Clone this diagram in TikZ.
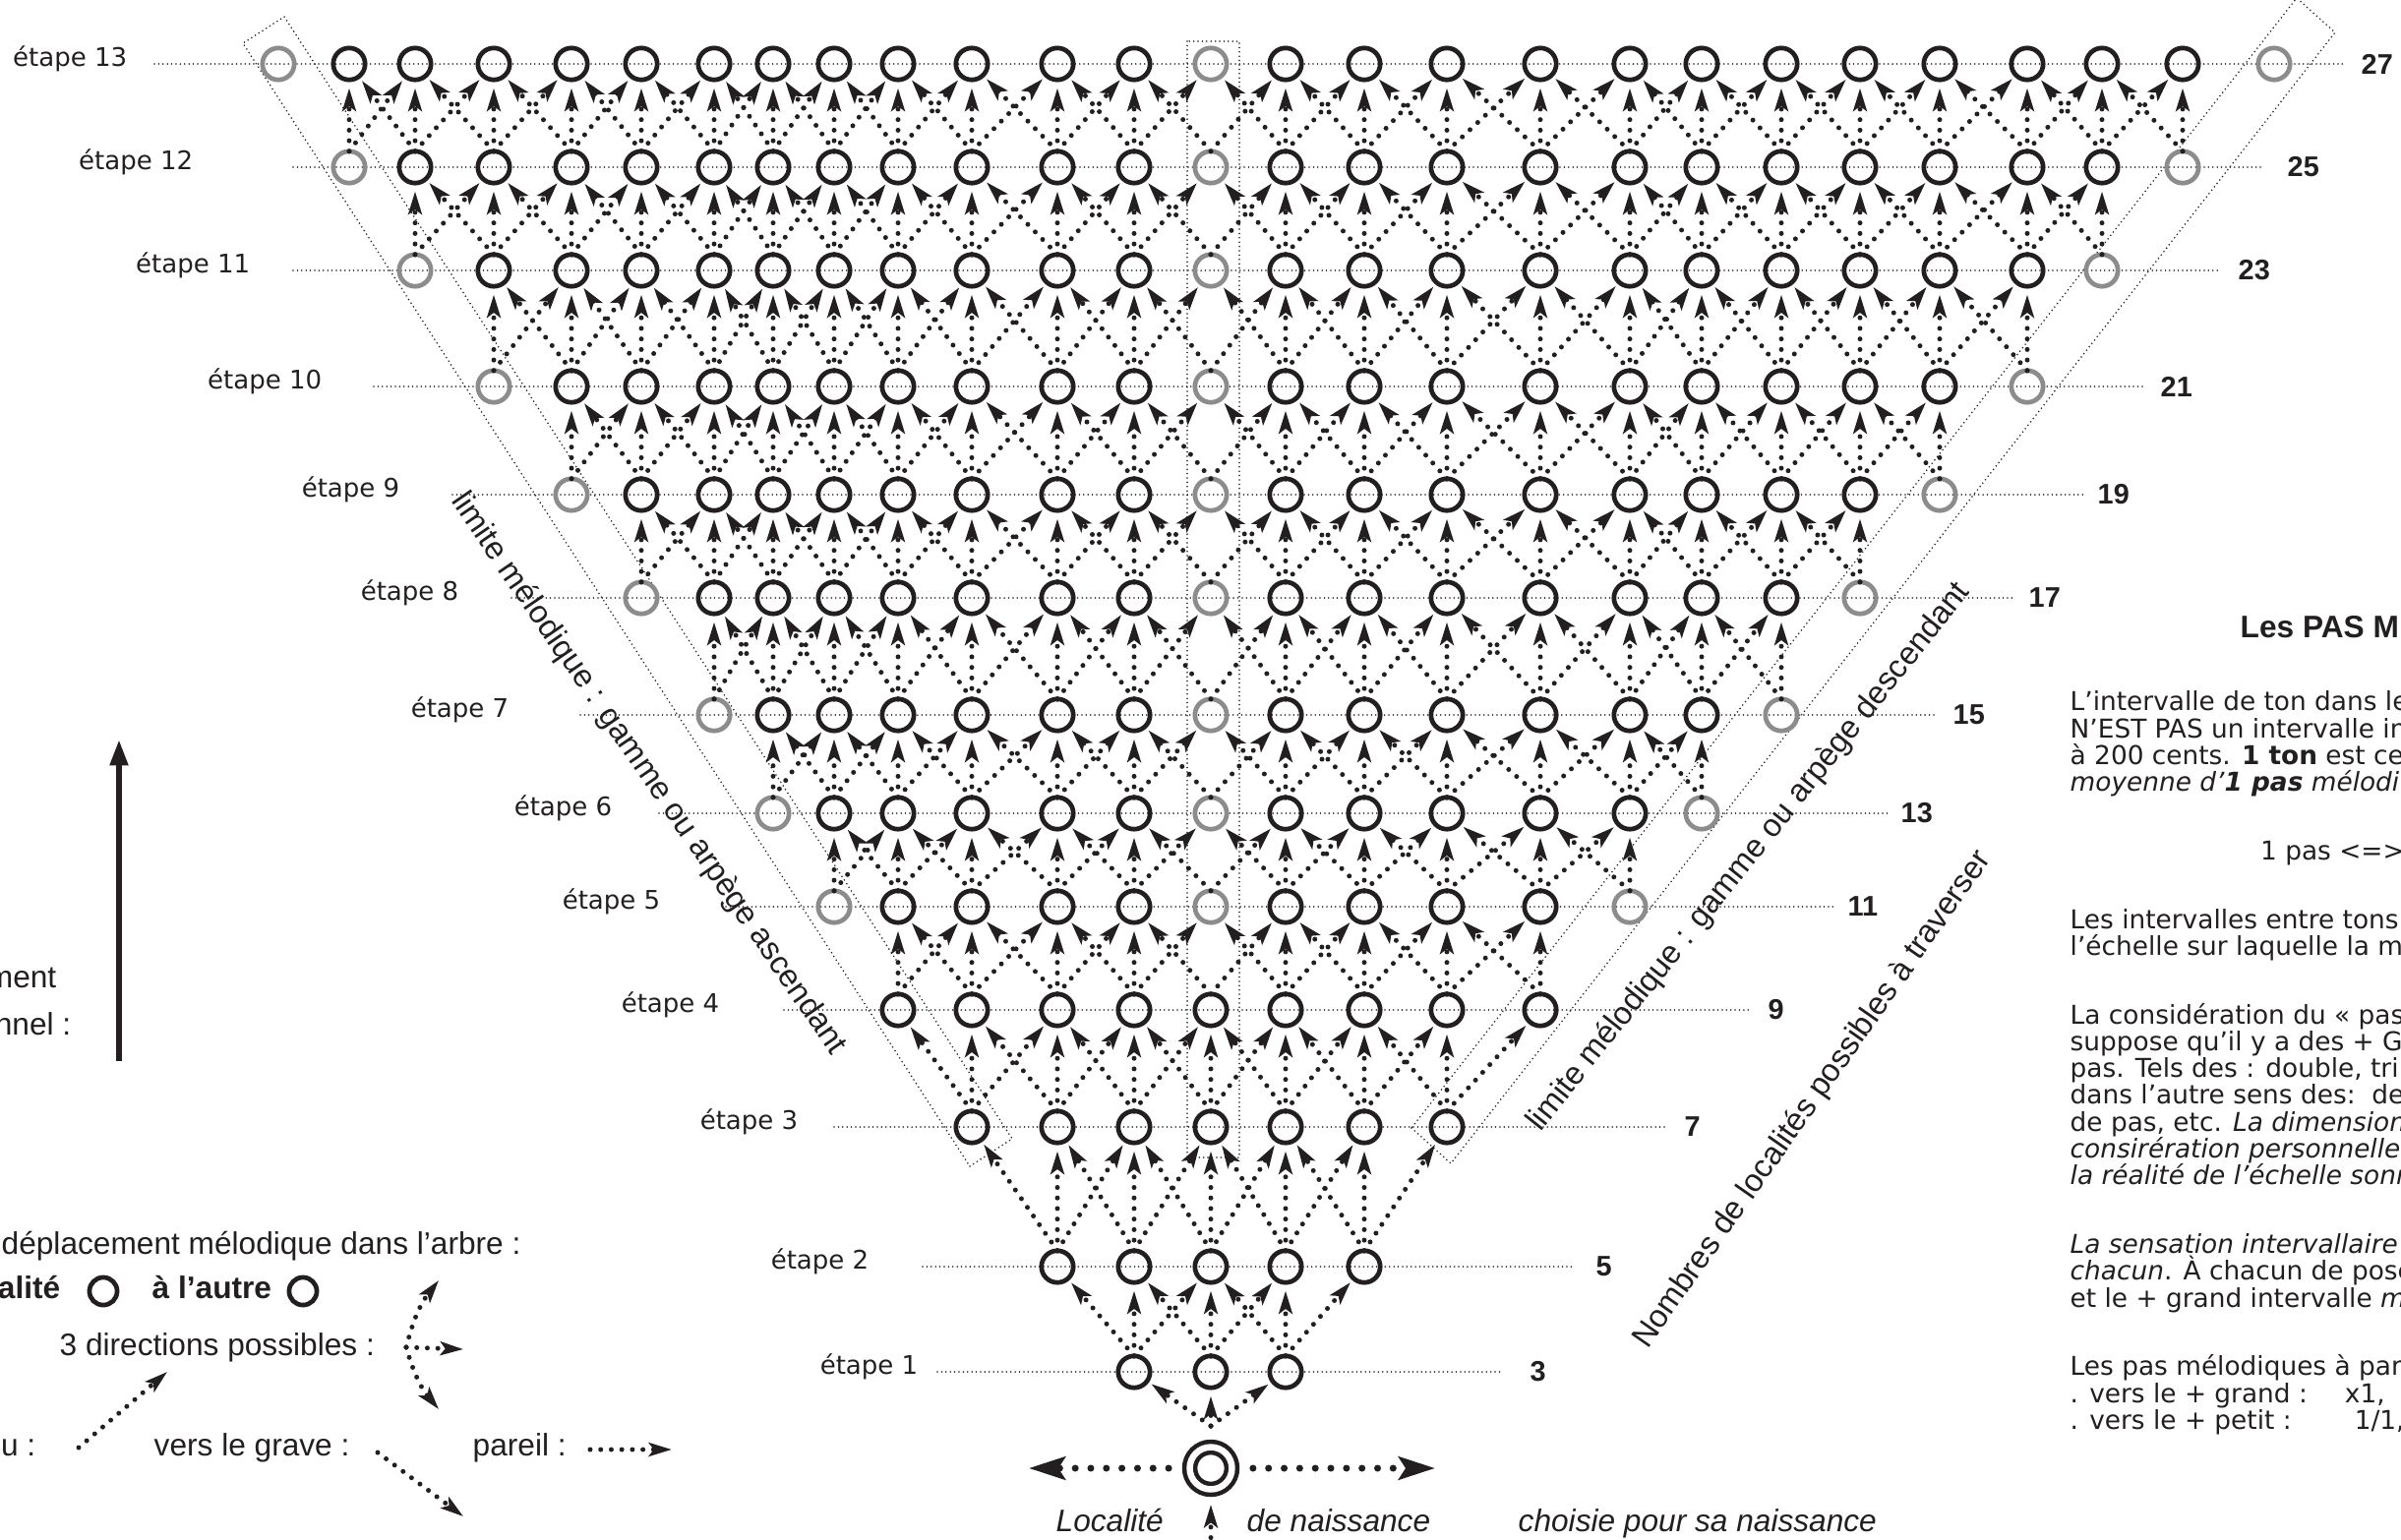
\documentclass[tikz,border=0pt]{standalone}
\usepackage{fontspec}
\setmainfont{Liberation Sans}
\newfontfamily\verdana{DejaVu Sans}
\usepackage{tikz}
\usetikzlibrary{arrows.meta}
\definecolor{encre}{RGB}{35, 31, 32}
\definecolor{grislimite}{RGB}{140, 140, 140}
\setlength{\lineskiplimit}{-20pt}

\begin{document}
\begin{tikzpicture}[
    x=0.01cm, y=-0.01cm,
    every node/.style={inner sep=0pt, text=encre},
    loc/.style={circle, draw=encre, line width=1.34pt, minimum size=9.2pt, outer sep=0pt},
    limite/.style={loc, draw=grislimite},
    naissance/.style={circle, draw=encre, line width=1.28pt, double=white, double distance=1.85pt, minimum size=12.2pt, outer sep=6.1pt},
    pas/.style={draw=encre, line width=1.42pt, line cap=round, dash pattern=on 0pt off 3.05pt, -{Stealth[length=6.6pt, width=3.9pt, inset=1.4pt]}, shorten >=1.5pt},
    grandpas/.style={draw=encre, line width=2pt, line cap=round, dash pattern=on 0pt off 4.5pt, -{Stealth[length=10.5pt, width=6.6pt, inset=2pt]}},
    rangee/.style={draw=encre, line width=0.5pt, line cap=round, dash pattern=on 0pt off 1.25pt},
    bordure/.style={rangee},
    etape/.style={font=\verdana\fontsize{7.4pt}{9pt}\selectfont, anchor=base east},
    nombre/.style={font=\fontsize{8.2pt}{10pt}\selectfont\bfseries, anchor=west},
    limtexte/.style={font=\fontsize{9.2pt}{11pt}\selectfont, anchor=base},
    legende/.style={font=\fontsize{9pt}{11pt}\selectfont},
    legras/.style={font=\fontsize{9pt}{11pt}\selectfont\bfseries},
    legital/.style={font=\fontsize{9pt}{11pt}\selectfont\itshape, anchor=base west},
    bloc/.style={font=\verdana\fontsize{7.5pt}{7.75pt}\selectfont, align=left},
    sens/.style={draw=encre, line width=1.7pt, -{Triangle[length=7.5pt, width=5pt]}}
]
\useasboundingbox (0,0) rectangle (2441,1566);
\clip (0,0) rectangle (2441,1566);

% columns (left to right) and rows (etape 0 to 13)
\def\colx{{283,355,422,502,581,652,726,786,848,913,988,1075,1153,1231,1307,1387,1471,1566,1657,1730,1811,1891,1972,2061,2137,2219,2312}}
\def\rowy{{1493,1395,1288,1146,1027,922,827,727,608,503,393,275,170,65}}

% Limits: ascending band, descending band, central column
\coordinate (bg1) at (986,1186);
\coordinate (bg2) at (1029,1158);
\coordinate (bg3) at (289,17);
\coordinate (bg4) at (247,44);
\draw[bordure] (bg1) -- (bg2) -- (bg3) -- (bg4) -- cycle;
\coordinate (bd1) at (1435,1147);
\coordinate (bd2) at (1475,1183);
\coordinate (bd3) at (2374,33);
\coordinate (bd4) at (2335,-2);
\draw[bordure] (bd1) -- (bd2) -- (bd3) -- (bd4) -- cycle;
\coordinate (bc1) at (1207,42);
\coordinate (bc2) at (1260,1177);
\draw[bordure] (bc1) rectangle (bc2);

% Rows: label, dotted line, number of localities
\foreach \st/\le/\ls/\lf/\nb in {1/934/953/1528/1555, 2/884/938/1600/1622, 3/812/848/1694/1712,
    4/732/797/1780/1797, 5/672/738/1865/1878, 6/623/670/1920/1932, 7/518/590/1970/1985,
    8/467/520/2049/2062, 9/407/460/2118/2132, 10/328/380/2180/2196, 11/255/298/2258/2275,
    12/197/298/2302/2325, 13/130/157/2385/2400} {
  \pgfmathsetmacro\yy{\rowy[\st]}
  \pgfmathtruncatemacro\nv{2*\st+1}
  \node[etape] (et\st) at (\le,\yy+2) {étape \st};
  \node[nombre] (nb\st) at (\nb,\yy) {\nv};
  \coordinate (rg\st) at (\ls,\yy);
  \coordinate (rd\st) at (\lf,\yy);
  \draw[rangee] (rg\st) -- (rd\st);
}

% Localities
\node[naissance] (p0-13) at (1231,1493) {};
\foreach \st in {1,...,13} {
  \pgfmathsetmacro\yy{\rowy[\st]}
  \foreach \cc in {-\st,...,\st} {
    \pgfmathtruncatemacro\ci{\cc+13}
    \pgfmathsetmacro\xx{\colx[\ci]}
    \pgfmathtruncatemacro\gris{and(\st>4, or(\cc==0, abs(\cc)==\st))}
    \ifnum\gris=1
      \node[limite] (p\st-\ci) at (\xx,\yy) {};
    \else
      \node[loc] (p\st-\ci) at (\xx,\yy) {};
    \fi
  }
}

% Melodic steps: up-left, same, up-right
\foreach \st in {0,...,12} {
  \pgfmathtruncatemacro\sn{\st+1}
  \foreach \cc in {-\st,...,\st} {
    \pgfmathtruncatemacro\ci{\cc+13}
    \foreach \dd in {-1,0,1} {
      \pgfmathtruncatemacro\nc{\cc+\dd}
      \pgfmathtruncatemacro\ni{\nc+13}
      \pgfmathtruncatemacro\vide{or(and(\dd==0, and(\cc==0, \st>3)), and(abs(\nc)==\sn, \sn>4))}
      \ifnum\vide=0
        \ifnum\dd=0
          \draw[pas, shorten >=2.4pt] (p\st-\ci.north) -- (p\sn-\ni);
        \else
          \draw[pas] (p\st-\ci.north) -- (p\sn-\ni);
        \fi
      \fi
    }
  }
}

% Birth locality
\coordinate (fl-g) at (1046,1493);
\coordinate (fl-d) at (1459,1493);
\draw[grandpas] (p0-13) -- (fl-g);
\draw[grandpas] (p0-13) -- (fl-d);
\coordinate (loc-bas) at (1231,1585);
\coordinate (loc-fl) at (1231,1530);
\draw[pas, shorten >=0pt] (loc-bas) -- (loc-fl);
\node[legital] (loc-txt) at (1073,1557) {Localité};
\node[legital] (naiss-txt) at (1267,1557) {de naissance};
\node[legital] (choix-txt) at (1543,1557) {choisie pour sa naissance};

% Rotated labels
\node[limtexte, rotate=-55.5] (lim-asc) at (652,792) {limite mélodique : gamme ou arpège ascendant};
\node[limtexte, rotate=51.5] (lim-desc) at (1785,877) {limite mélodique : gamme ou arpège descendant};
\node[limtexte, rotate=55] (nombres) at (1850,1123) {Nombres de localités possibles à traverser};

% Direction of time
\node[legende, anchor=base east] (sens-a) at (58,1004) {ment};
\node[legende, anchor=base east] (sens-b) at (73,1052) {nnel :};
\coordinate (sens-bas) at (121,1079);
\coordinate (sens-haut) at (121,752);
\draw[sens] (sens-bas) -- (sens-haut);

% Legend
\node[legende, anchor=base west] (leg-titre) at (1,1275) {déplacement mélodique dans l’arbre :};
\node[legras, anchor=base east] (leg-de) at (62,1320) {alité};
\node[loc, minimum size=8pt] (leg-a) at (105,1313) {};
\node[legras, anchor=base west] (leg-vers) at (154,1320) {à l’autre};
\node[loc, minimum size=8pt] (leg-b) at (308,1313) {};
\node[legende, anchor=base west] (leg-dir) at (60,1378) {3 directions possibles :};
\coordinate (fan) at (413,1370);
\coordinate (fan-h) at (446,1302);
\coordinate (fan-d) at (471,1372);
\coordinate (fan-b) at (446,1433);
\draw[pas, shorten >=0pt] (fan) to[bend left=12] (fan-h);
\draw[pas, shorten >=0pt] (fan) -- (fan-d);
\draw[pas, shorten >=0pt] (fan) to[bend right=12] (fan-b);
\node[legende, anchor=base east] (leg-aigu) at (37,1480) {gu :};
\coordinate (aigu-a) at (80,1472);
\coordinate (aigu-b) at (170,1395);
\draw[pas, shorten >=0pt] (aigu-a) -- (aigu-b);
\node[legende, anchor=base west] (leg-grave) at (156,1480) {vers le grave :};
\coordinate (grave-a) at (384,1477);
\coordinate (grave-b) at (471,1542);
\draw[pas, shorten >=0pt] (grave-a) -- (grave-b);
\node[legende, anchor=base west] (leg-pareil) at (480,1480) {pareil :};
\coordinate (pareil-a) at (600,1474);
\coordinate (pareil-b) at (683,1474);
\draw[pas, shorten >=0pt] (pareil-a) -- (pareil-b);

% Text on the right
\node[legras, anchor=base west] (titre) at (2277,648) {Les PAS M};
\node[bloc, anchor=north west] (texte) at (2104,702) {%
L’intervalle de ton dans le\\
N’EST PAS un intervalle in\\
à 200 cents. \textbf{1 ton} est ce\\
\textit{moyenne d’\textbf{1 pas} mélodi}\\[12.1pt]
\hspace*{55pt}1 pas <=>\\[12.1pt]
Les intervalles entre tons\\
l’échelle sur laquelle la m\\[12.1pt]
La considération du « pas\\
suppose qu’il y a des + G\\
pas. Tels des : double, tri\\
dans l’autre sens des:\ \ de\\
de pas, etc. \textit{La dimension}\\
\textit{consirération personnelle}\\
\textit{la réalité de l’échelle sonn}\\[12.1pt]
\textit{La sensation intervallaire}\\
\textit{chacun}. À chacun de pose\\
et le + grand intervalle \textit{m}\\[12.1pt]
Les pas mélodiques à par\\
\makebox[79.4pt][l]{. vers le + grand :}x1,\\
\makebox[82.2pt][l]{. vers le + petit :}1/1,};

\end{tikzpicture}
\end{document}
